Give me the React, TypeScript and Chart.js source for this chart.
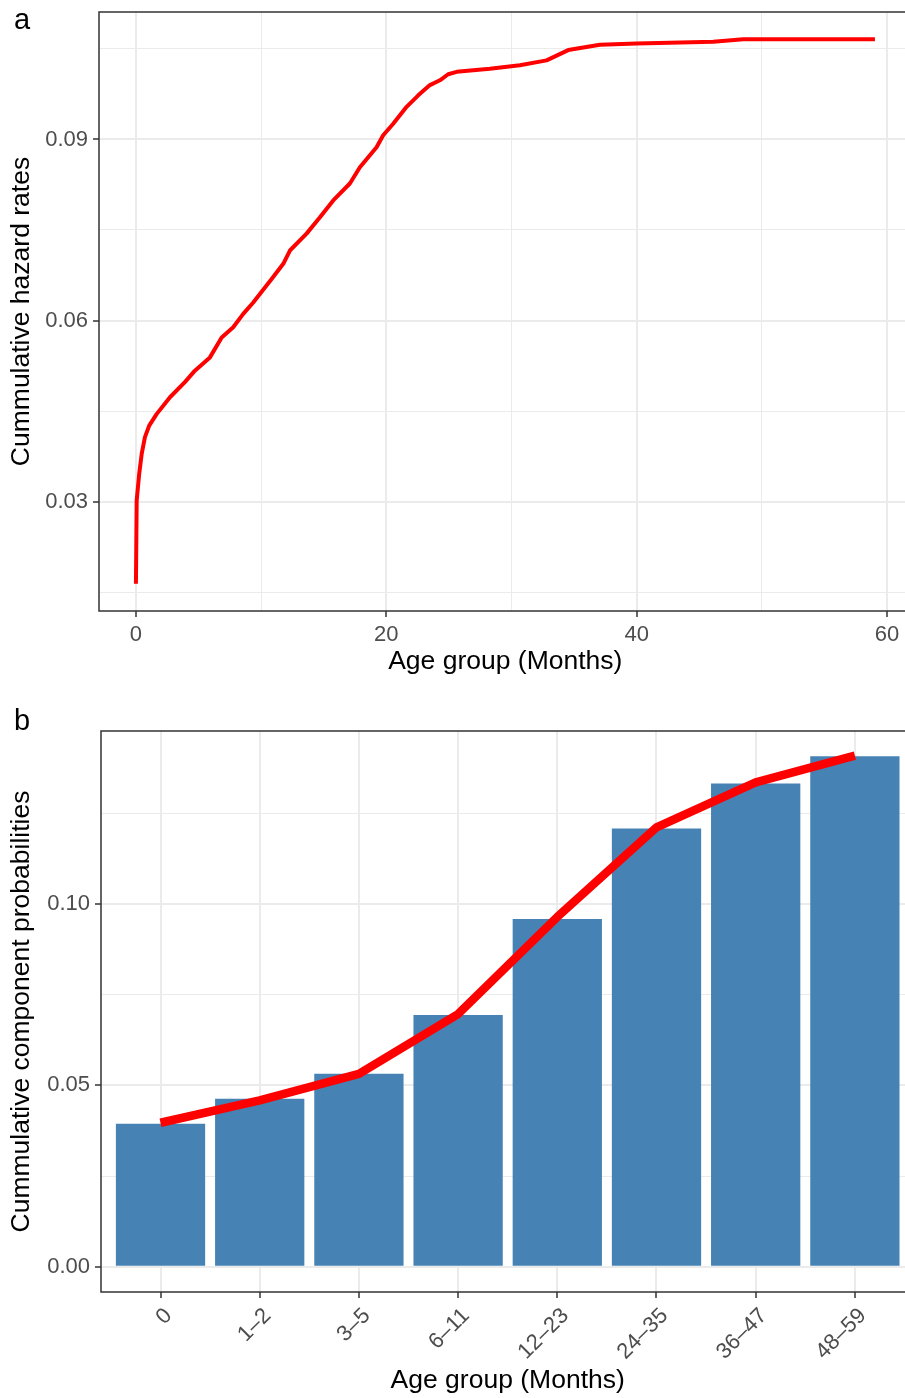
import React, { useEffect, useRef } from "react";
import { Chart, registerables } from "chart.js";
Chart.register(...registerables);

const FONT = "'Liberation Sans', Arial, Helvetica, sans-serif";

// ---- Panel a: cumulative hazard ----
const hazardMonths = [0, 0.06, 0.26, 0.46, 0.72, 1.06, 1.65, 2.72, 3.91, 4.71, 5.91, 6.85, 7.77, 8.57, 9.37, 9.9, 10.84, 11.77, 12.3, 13.63, 14.7, 15.76, 17.09, 17.89, 19.22, 19.75, 20.55, 21.62, 22.55, 23.48, 24.28, 24.94, 25.62, 28.27, 30.67, 32.8, 34.53, 37.06, 39.99, 46.11, 48.51, 59.03];
const hazardRates = [0.0164, 0.0302, 0.0346, 0.0379, 0.0407, 0.0426, 0.0445, 0.0473, 0.0498, 0.0517, 0.0539, 0.0572, 0.0589, 0.0611, 0.063, 0.0644, 0.0669, 0.0694, 0.0716, 0.0744, 0.0771, 0.0799, 0.0827, 0.0854, 0.0887, 0.0907, 0.0926, 0.0954, 0.0973, 0.099, 0.0998, 0.1008, 0.1012, 0.1017, 0.1023, 0.1031, 0.1048, 0.1057, 0.1059, 0.1062, 0.1066, 0.1066];
const hazardXMajor = [0, 20, 40, 60];
const hazardXLabels = ["0", "20", "40", "60"];
const hazardXMinor = [10, 30, 50];
const hazardYMajor = [0.03, 0.06, 0.09];
const hazardYLabels = ["0.03", "0.06", "0.09"];
const hazardYMinor = [0.015, 0.045, 0.075, 0.105];

// ---- Panel b: cumulative component probabilities ----
const ageGroups = ["0", "1–2", "3–5", "6–11", "12–23", "24–35", "36–47", "48–59"];
const componentBars = [0.0394, 0.0463, 0.0532, 0.0694, 0.0959, 0.1209, 0.1333, 0.1408];
const componentLine = [0.0397, 0.0459, 0.0532, 0.0697, 0.0965, 0.1212, 0.1336, 0.141];
const probYMajor = [0, 0.05, 0.1];
const probYLabels = ["0.00", "0.05", "0.10"];
const probYMinor = [0.025, 0.075, 0.125];

const GRID = "#EBEBEB";
const near = (a: number, b: number) => Math.abs(a - b) < 1e-9;
const idxIn = (arr: number[], v: number) => arr.findIndex((a) => near(a, v));

function axis(o: {
  min: number; max: number; major: number[]; minor: number[]; labels: string[];
  title: string; titlePad: any; size: number; horizontal: boolean; rotation?: number; labelOffset?: number;
}) {
  return {
    type: "linear",
    min: o.min,
    max: o.max,
    offset: false,
    bounds: "data",
    afterBuildTicks: (s: any) => {
      s.ticks = [...o.major, ...o.minor].sort((a, b) => a - b).map((v) => ({ value: v }));
    },
    afterFit: (s: any) => {
      if (o.horizontal) s.height = o.size; else s.width = o.size;
      s.paddingLeft = 0; s.paddingRight = 0; s.paddingTop = 0; s.paddingBottom = 0;
    },
    grid: {
      offset: false,
      color: GRID,
      lineWidth: (c: any) => (c.tick && idxIn(o.major, c.tick.value) >= 0 ? 2 : 1),
      tickColor: (c: any) => (c.tick && idxIn(o.major, c.tick.value) >= 0 ? "#333333" : "rgba(0,0,0,0)"),
      tickWidth: 1.5,
      tickLength: 6,
      drawTicks: true,
    },
    border: { display: false },
    ticks: {
      autoSkip: false,
      padding: 5,
      color: "#4D4D4D",
      font: { family: FONT, size: 22 },
      minRotation: o.rotation || 0,
      maxRotation: o.rotation || 0,
      labelOffset: o.labelOffset || 0,
      callback: (v: number) => {
        const i = idxIn(o.major, v);
        return i >= 0 ? o.labels[i] : "";
      },
    },
    title: {
      display: true,
      text: o.title,
      color: "#000000",
      font: { family: FONT, size: 26.5 },
      padding: o.titlePad,
    },
  };
}

const panelBorder = {
  id: "panelBorder",
  afterDraw(chart: any) {
    const { ctx, chartArea } = chart;
    const { left, top, right, bottom } = chartArea;
    ctx.save();
    ctx.strokeStyle = "#333333";
    ctx.lineWidth = 1.5;
    ctx.strokeRect(left, top, right - left, bottom - top);
    ctx.restore();
  },
};

const W = 930;

function configA(): any {
  return {
    type: "line",
    data: {
      datasets: [
        {
          data: hazardMonths.map((x, i) => ({ x, y: hazardRates[i] })),
          borderColor: "#FF0000",
          borderWidth: 4,
          borderJoinStyle: "round",
          pointRadius: 0,
          fill: false,
          tension: 0,
        },
      ],
    },
    options: {
      responsive: false,
      animation: false,
      devicePixelRatio: 1,
      layout: { padding: { top: 12, left: 0, right: W - 911.5, bottom: 0 } },
      plugins: { legend: { display: false }, tooltip: { enabled: false } },
      scales: {
        x: axis({
          min: -2.95, max: 61.95, major: hazardXMajor, minor: hazardXMinor, labels: hazardXLabels,
          title: "Age group (Months)", titlePad: { top: 0, bottom: 22 }, size: 89, horizontal: true,
        }),
        y: axis({
          min: 0.01189, max: 0.11111, major: hazardYMajor, minor: hazardYMinor, labels: hazardYLabels,
          title: "Cummulative hazard rates", titlePad: { top: 6, bottom: 0 }, size: 99, horizontal: false,
        }),
      },
    },
    plugins: [panelBorder],
  };
}

function configB(): any {
  return {
    type: "bar",
    data: {
      datasets: [
        {
          type: "line",
          data: componentLine.map((y, i) => ({ x: i, y })),
          borderColor: "#FF0000",
          borderWidth: 8.5,
          borderJoinStyle: "round",
          pointRadius: 0,
          fill: false,
          tension: 0,
          order: 0,
        },
        {
          type: "bar",
          data: componentBars.map((y, i) => ({ x: i, y })),
          backgroundColor: "#4682B4",
          barPercentage: 0.9,
          categoryPercentage: 1,
          order: 1,
        },
      ],
    },
    options: {
      responsive: false,
      animation: false,
      devicePixelRatio: 1,
      layout: { padding: { top: 31, left: 0, right: W - 914.4, bottom: 0 } },
      plugins: { legend: { display: false }, tooltip: { enabled: false } },
      scales: {
        x: axis({
          min: -0.6, max: 7.6, major: ageGroups.map((_, i) => i), minor: [], labels: ageGroups,
          title: "Age group (Months)", titlePad: { top: 0, bottom: 1 }, size: 106, horizontal: true,
          rotation: 45, labelOffset: 8,
        }),
        y: axis({
          min: -0.007, max: 0.1478, major: probYMajor, minor: probYMinor, labels: probYLabels,
          title: "Cummulative component probabilities", titlePad: { top: 6, bottom: 0 }, size: 101, horizontal: false,
        }),
      },
    },
    plugins: [panelBorder],
  };
}

function ChartCanvas({ make, top, height }: { make: () => any; top: number; height: number }) {
  const ref = useRef<HTMLCanvasElement>(null);
  useEffect(() => {
    const chart = new Chart(ref.current as HTMLCanvasElement, make());
    return () => chart.destroy();
  }, []);
  return (
    <canvas
      ref={ref}
      width={W}
      height={height}
      style={{ position: "absolute", left: 0, top, width: W, height, display: "block" }}
    />
  );
}

const tagStyle: React.CSSProperties = {
  position: "absolute",
  left: 14,
  fontFamily: FONT,
  fontSize: 29,
  lineHeight: "29px",
  color: "#000",
};

export default function App() {
  return (
    <div
      style={{
        position: "fixed",
        left: 0,
        top: 0,
        width: 905,
        height: 1398,
        overflow: "hidden",
        background: "#FFFFFF",
      }}
    >
      <ChartCanvas make={configA} top={0} height={700} />
      <ChartCanvas make={configB} top={700} height={698} />
      <div style={{ ...tagStyle, top: 5 }}>a</div>
      <div style={{ ...tagStyle, top: 706 }}>b</div>
    </div>
  );
}
